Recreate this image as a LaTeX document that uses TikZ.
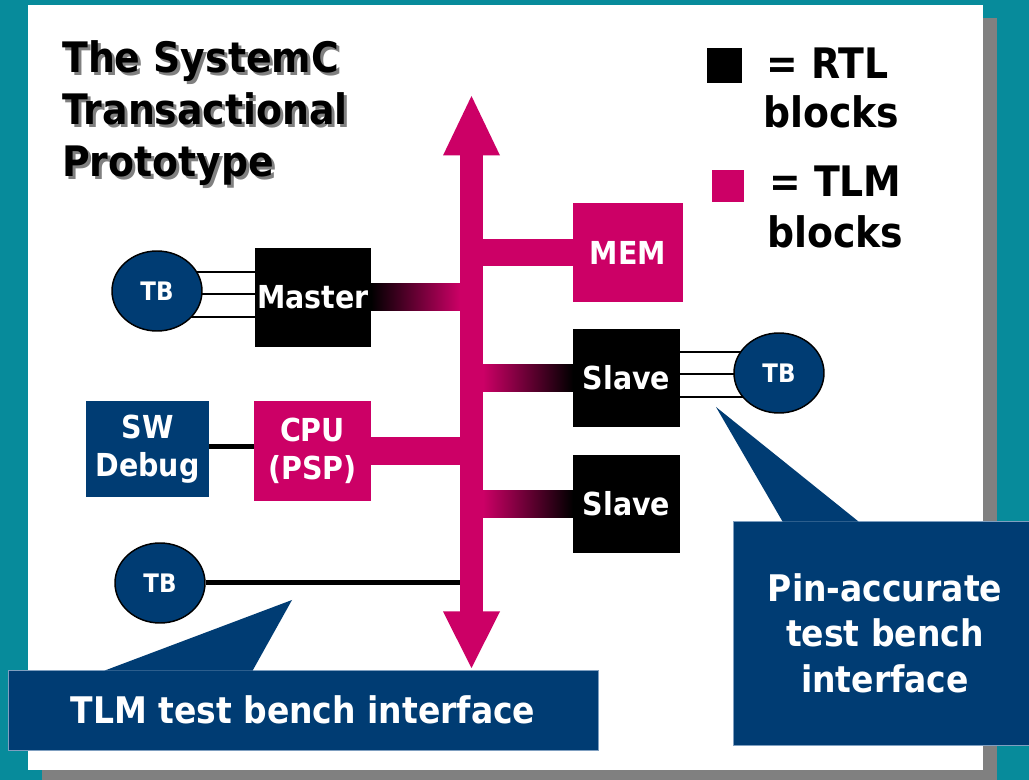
\documentclass[tikz,border=0pt]{standalone}
\usepackage{fontspec}
\setmainfont{DejaVu Sans}[FakeStretch=0.9]
\usetikzlibrary{shapes.geometric,calc}
\definecolor{teal1}{HTML}{078B9B}
\definecolor{mag}{HTML}{CC0066}
\definecolor{navy}{HTML}{003C73}
\definecolor{shad}{HTML}{808080}
\definecolor{noteedge}{HTML}{7F9FC0}
\newcommand\shtxt[1]{\makebox[0pt][l]{\hspace{2.25pt}\raisebox{-2.25pt}[0pt][0pt]{\textcolor{shad}{#1}}}#1}
\pgfdeclarelayer{bg}
\pgfsetlayers{bg,main}
\begin{document}
\begin{tikzpicture}[x=0.75pt,y=-0.75pt,
  big/.style={font=\fontsize{31.5}{39}\selectfont\bfseries, inner sep=0},
  boxtext/.style={font=\fontsize{23.75}{28.5}\selectfont\bfseries, text=white, align=center, inner sep=0, outer sep=0},
  rtl/.style={boxtext, fill=black},
  tlm/.style={boxtext, fill=mag},
  tb/.style={ellipse, draw=black, line width=1.1pt, fill=navy, text=white,
    font=\fontsize{19.1}{22}\selectfont\bfseries, minimum width=67.5pt, minimum height=60pt, inner sep=0},
  note/.style={fill=navy, draw=noteedge, line width=0.6pt, text=white,
    font=\fontsize{27.5}{34}\selectfont\bfseries, align=center, inner sep=0},
  wire/.style={draw=black, line width=1.4pt},
  fatwire/.style={draw=black, line width=3.75pt}
]
\useasboundingbox (0,0) rectangle (1029,780);
\clip (0,0) rectangle (1029,780);
\begin{pgfonlayer}{bg}
  \fill[teal1] (0,0) rectangle (1029,780);
  \fill[shad] (42,18) rectangle (997,784);
  \fill[white] (28,5) rectangle (983,770);
\end{pgfonlayer}

% title (with drop shadow)
\node[big, anchor=base west] (t1) at (62,73) {\shtxt{The SystemC}};
\node[big, anchor=base west] (t2) at (62,125) {\shtxt{Transactional}};
\node[big, anchor=base west] (t3) at (62,177) {\shtxt{Prototype}};

% legend
\node[fill=black, minimum size=26.25pt, inner sep=0] (rtlkey) at (724.5,65.5) {};
\node[big, anchor=base west] (rtl1) at (766,79) {= RTL};
\node[big, anchor=base west] (rtl2) at (763,128) {blocks};
\node[fill=mag, minimum size=24pt, inner sep=0] (tlmkey) at (728,186) {};
\node[big, anchor=base west] (tlm1) at (769,197) {= TLM};
\node[big, anchor=base west] (tlm2) at (767,248) {blocks};

% bus
\node[fill=mag, minimum width=17.25pt, minimum height=342.75pt, inner sep=0, outer sep=0] (bus) at (471.5,383.5) {};
\fill[mag] ($(bus.north)+(-28.5,0.5)$) -- ($(bus.north)+(28.5,0.5)$) -- ($(bus.north)+(0,-59)$) -- cycle;
\fill[mag] ($(bus.south)+(-28.5,-0.5)$) -- ($(bus.south)+(28.5,-0.5)$) -- ($(bus.south)+(0,56)$) -- cycle;

% blocks
\node[rtl, minimum width=87pt, minimum height=74.25pt] (master) at (313,297.5) {Master};
\node[tlm, minimum width=82.5pt, minimum height=74.25pt] (mem) at (628,252.5) {MEM};
\node[rtl, minimum width=80.25pt, minimum height=73.5pt] (slave1) at (626.5,378) {Slave};
\node[rtl, minimum width=80.25pt, minimum height=73.5pt] (slave2) at (626.5,504) {Slave};
\node[tlm, minimum width=87.75pt, minimum height=75pt] (cpu) at (312.5,451) {CPU\\(PSP)};
\node[boxtext, fill=navy, minimum width=92.25pt, minimum height=72pt] (sw) at (147.5,449) {SW\\Debug};
\node[tb] (tb1) at (157,291) {TB};
\node[tb] (tb2) at (779,373) {TB};
\node[tb] (tb3) at (160,583) {TB};

% wires to test benches
\begin{pgfonlayer}{bg}
  \draw[wire] (tb1.center |- 0,272) -- (master.west |- 0,272);
  \draw[wire] (tb1.center |- 0,294) -- (master.west |- 0,294);
  \draw[wire] (tb1.center |- 0,317) -- (master.west |- 0,317);
  \draw[wire] (slave1.east |- 0,352) -- (tb2.center |- 0,352);
  \draw[wire] (slave1.east |- 0,374) -- (tb2.center |- 0,374);
  \draw[wire] (slave1.east |- 0,397) -- (tb2.center |- 0,397);
\end{pgfonlayer}
\draw[fatwire] (sw.east |- 0,447) -- (cpu.west |- 0,447);
\draw[fatwire] (tb3.east) -- (bus.west |- tb3.east);

% bus connections
\shade[left color=black, right color=mag] (master.east |- 0,284) rectangle (bus.west |- 0,311);
\fill[mag] (bus.east |- 0,239) rectangle (mem.west |- 0,266);
\shade[left color=mag, middle color=mag, right color=black] (bus.east |- 0,365) rectangle (slave1.west |- 0,392);
\shade[left color=mag, middle color=mag, right color=black] (bus.east |- 0,491) rectangle (slave2.west |- 0,518);
\fill[mag] (cpu.east |- 0,437) rectangle (bus.west |- 0,465);

% callouts
\node[note, minimum width=442.5pt, minimum height=60pt] (tlmnote) at (303,710) {TLM test bench interface};
\coordinate (tlmtip) at (292,600);
\fill[navy] ($(tlmnote.north west)+(97,1)$) -- (tlmtip) -- ($(tlmnote.north west)+(245,1)$) -- cycle;

\node[note, minimum width=228pt, minimum height=168pt] (pinnote) at (885,633) {Pin-accurate\\test bench\\interface};
\coordinate (pintip) at (716,407);
\fill[navy] ($(pinnote.north west)+(50,1)$) -- (pintip) -- ($(pinnote.north west)+(126,1)$) -- cycle;
\end{tikzpicture}
\end{document}
